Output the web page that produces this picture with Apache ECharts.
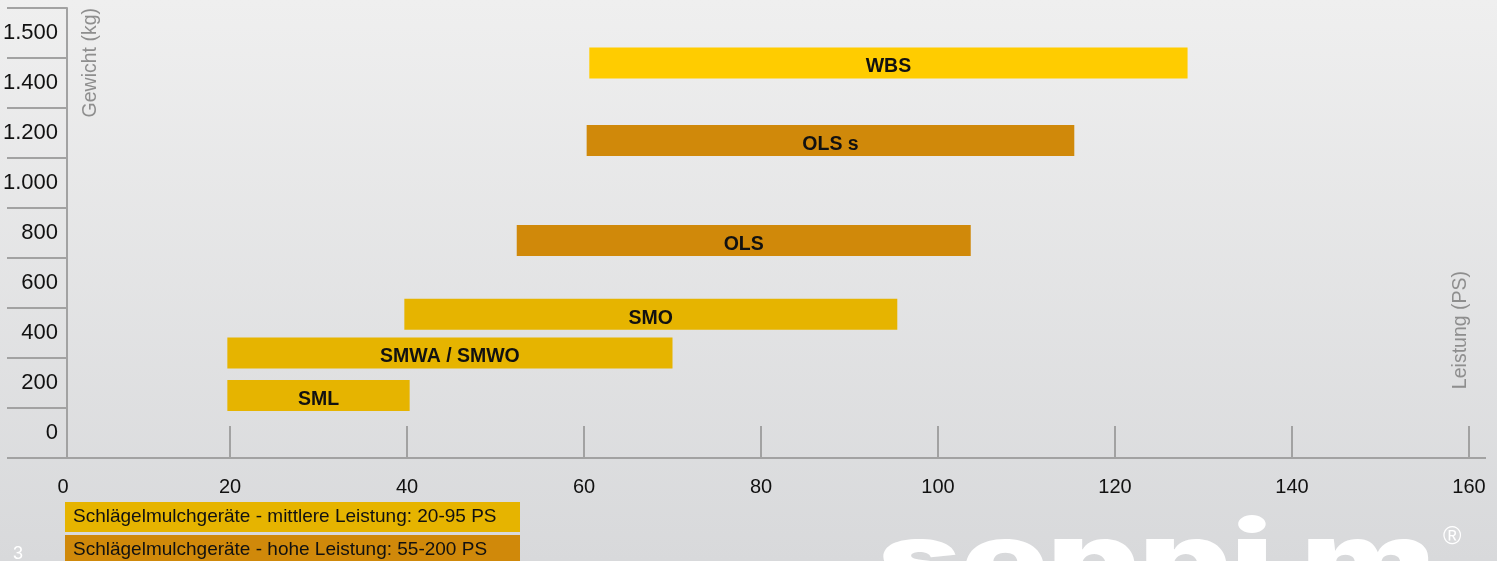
<!DOCTYPE html>
<html><head><meta charset="utf-8">
<script src="https://cdn.jsdelivr.net/npm/echarts@6/dist/echarts.min.js"></script>
<style>
html,body{margin:0;padding:0;width:1497px;height:561px;overflow:hidden;background:linear-gradient(to bottom,#efefef 0%,#d8d9db 100%);}
#c{width:1497px;height:561px;}
</style>
</head><body><div id="c"></div>
<script>
// ---- data ----
const weightLabels = ['0', '200', '400', '600', '800', '1.000', '1.200', '1.400', '1.500'];
const psTicks = [0, 20, 40, 60, 80, 100, 120, 140, 160];
const machines = ['SML', 'SMWA / SMWO', 'SMO', 'OLS', 'OLS s', 'WBS'];
const psFrom = [19.7, 19.7, 39.7, 52.4, 60.3, 60.6];
const psTo = [40.3, 70, 95.4, 103.7, 115.4, 128.2];
const weightKg = [150, 320, 475, 770, 1170, 1480];
const machineGroup = [0, 0, 0, 1, 1, 2];
const groupNames = ['Schlägelmulchgeräte - mittlere Leistung: 20-95 PS', 'Schlägelmulchgeräte - hohe Leistung: 55-200 PS', 'WBS'];
const groupColors = ['#e6b400', '#d0890a', '#ffcc00'];

const FONT = '"Liberation Sans", Arial, Helvetica, sans-serif';
const axisGray = '#a2a2a2';

function renderBar(params, api) {
  const a = api.coord([api.value(0), api.value(2)]);
  const b = api.coord([api.value(1), api.value(2)]);
  const h = 31;
  return {
    type: 'rect',
    shape: { x: a[0], y: a[1] - h / 2, width: b[0] - a[0], height: h },
    style: { fill: api.visual('color') },
    textContent: { style: { text: machines[api.value(3)], fill: '#111', font: 'bold 19.5px ' + FONT } },
    textConfig: { position: 'inside', offset: [0, 4] }
  };
}

const series = groupNames.map((g, gi) => ({
  type: 'custom',
  name: g,
  xAxisIndex: 0,
  yAxisIndex: 1,
  itemStyle: { color: groupColors[gi] },
  encode: { x: [0, 1], y: 2 },
  renderItem: renderBar,
  data: machines.map((m, i) => i).filter(i => machineGroup[i] === gi)
    .map(i => [psFrom[i], psTo[i], weightKg[i], i])
}));

const chart = echarts.init(document.getElementById('c'), null, { renderer: 'canvas' });
chart.setOption({
  animation: false,
  backgroundColor: 'transparent',
  grid: { left: 53, right: 28, top: 8, bottom: 103, containLabel: false, outerBoundsMode: 'none' },
  xAxis: {
    type: 'value', min: 0, max: 160, interval: 20, position: 'bottom',
    axisLine: { show: true, onZero: false, lineStyle: { color: axisGray, width: 2 }, symbol: ['none', 'rect'], symbolSize: [2, 17], symbolOffset: [0, 8.5] },
    axisTick: { show: true, inside: true, length: 32, lineStyle: { color: axisGray, width: 2 }, customValues: psTicks.slice(1) },
    axisLabel: {
      customValues: psTicks, margin: 19, fontSize: 20, color: '#111', fontFamily: FONT,
      formatter: v => v === 0 ? '{z|0}' : String(v),
      rich: { z: { padding: [0, 0, 0, 20], fontSize: 20, color: '#111', fontFamily: FONT } }
    },
    splitLine: { show: false }
  },
  yAxis: [{
    type: 'category', data: weightLabels, position: 'left', offset: -14, boundaryGap: true,
    axisLine: { show: true, onZero: false, lineStyle: { color: axisGray, width: 2 } },
    axisTick: { show: true, length: 60, lineStyle: { color: axisGray, width: 2 } },
    axisLabel: { margin: 9, fontSize: 22, color: '#111', fontFamily: FONT },
    splitLine: { show: false }
  }, {
    type: 'value', min: -100, max: 1700, show: false
  }],
  legend: {
    orient: 'vertical', left: 60, top: 502, height: 120, itemGap: 3, itemWidth: 0, itemHeight: 0, icon: 'rect',
    selectedMode: false, padding: 0,
    data: [
      { name: groupNames[0], textStyle: { backgroundColor: groupColors[0] } },
      { name: groupNames[1], textStyle: { backgroundColor: groupColors[1] } }
    ],
    textStyle: { fontSize: 19, fontFamily: FONT, color: '#111', width: 439, padding: [5, 8], lineHeight: 20 }
  },
  graphic: [
    { type: 'text', x: 91, y: 8, rotation: Math.PI / 2, style: { text: 'Gewicht (kg)', fill: '#8e8e8e', font: '19.5px ' + FONT, align: 'right', verticalAlign: 'middle' } },
    { type: 'text', x: 1461, y: 271, rotation: Math.PI / 2, style: { text: 'Leistung (PS)', fill: '#8e8e8e', font: '19.5px ' + FONT, align: 'right', verticalAlign: 'middle' } },
    { type: 'text', x: 878, y: 514, scaleX: 1.42, style: { text: 'seppi m', fill: '#ffffff', font: '900 100px Inter, "DejaVu Sans", sans-serif', align: 'left', verticalAlign: 'top' } },
    { type: 'text', x: 1443, y: 525, style: { text: '®', fill: '#ffffff', font: '25px ' + FONT, align: 'left', verticalAlign: 'top' } },
    { type: 'text', x: 18, y: 545, style: { text: '3', fill: '#ffffff', font: '18px ' + FONT, align: 'center', verticalAlign: 'top' } }
  ],
  series: series
});
</script>
</body></html>
